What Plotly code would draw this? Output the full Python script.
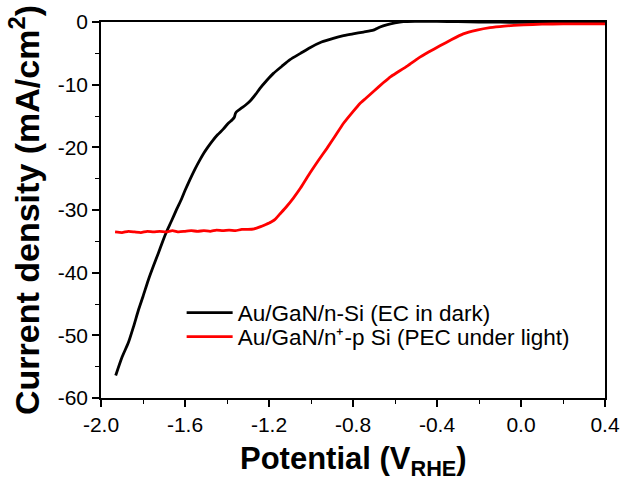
import plotly.graph_objects as go

# ---- data ----
dark_v = [-1.930, -1.900, -1.870, -1.845, -1.822, -1.800, -1.775, -1.750, -1.727, -1.705,
          -1.687, -1.665, -1.640, -1.616, -1.600, -1.576, -1.553, -1.529, -1.510, -1.492,
          -1.470, -1.445, -1.418, -1.395, -1.375, -1.365, -1.360, -1.354, -1.330, -1.310,
          -1.290, -1.265, -1.243, -1.210, -1.179, -1.140, -1.100, -1.050, -1.005, -0.950,
          -0.894, -0.850, -0.800, -0.750, -0.703, -0.690, -0.671, -0.640, -0.600, -0.560,
          -0.500, -0.400, -0.300, -0.200, 0.000, 0.200, 0.400]
dark_j = [-56.4, -53.5, -51.2, -48.6, -46.0, -43.8, -41.2, -38.9, -36.9, -34.9,
          -33.4, -31.8, -29.9, -28.2, -26.9, -25.1, -23.5, -22.0, -20.9, -20.0,
          -19.0, -18.0, -17.1, -16.2, -15.6, -15.2, -14.6, -14.3, -13.7, -13.2,
          -12.6, -11.6, -10.6, -9.3, -8.2, -7.1, -6.0, -5.0, -4.1, -3.2,
          -2.6, -2.2, -1.9, -1.6, -1.3, -1.1, -0.8, -0.45, -0.15, 0.05,
          0.1, 0.1, 0.05, 0.0, -0.05, -0.05, -0.05]

light_v = [-1.933, -1.900, -1.870, -1.840, -1.810, -1.780, -1.750, -1.720, -1.690, -1.660,
           -1.630, -1.600, -1.570, -1.540, -1.510, -1.480, -1.450, -1.420, -1.390, -1.360,
           -1.330, -1.300, -1.270, -1.243, -1.215, -1.190, -1.171, -1.150, -1.120, -1.084,
           -1.050, -1.005, -0.965, -0.925, -0.885, -0.846, -0.805, -0.767, -0.740, -0.700,
           -0.656, -0.620, -0.592, -0.540, -0.490, -0.440, -0.386, -0.330, -0.275, -0.210,
           -0.148, -0.080, 0.011, 0.100, 0.200, 0.329, 0.400]
light_j = [-33.5, -33.6, -33.4, -33.5, -33.6, -33.4, -33.5, -33.4, -33.5, -33.3,
           -33.5, -33.4, -33.3, -33.4, -33.3, -33.4, -33.2, -33.3, -33.2, -33.3,
           -33.1, -33.1, -33.0, -32.7, -32.3, -31.9, -31.5, -30.7, -29.6, -28.1,
           -26.5, -24.1, -22.1, -20.2, -18.2, -16.2, -14.5, -13.0, -12.2, -11.0,
           -9.7, -8.7, -8.1, -7.0, -5.8, -4.8, -3.8, -2.8, -1.9, -1.3,
           -0.9, -0.65, -0.45, -0.35, -0.3, -0.3, -0.3]

x_tickvals = [-2.0, -1.6, -1.2, -0.8, -0.4, 0.0, 0.4]
x_ticktext = ["-2.0", "-1.6", "-1.2", "-0.8", "-0.4", "0.0", "0.4"]
y_tickvals = [-60, -50, -40, -30, -20, -10, 0]
y_ticktext = ["-60", "-50", "-40", "-30", "-20", "-10", "0"]

name_dark = "Au/GaN/n-Si (EC in dark)"
name_light = "Au/GaN/n\u207a-p Si (PEC under light)"
x_title = "Potential (V<sub>RHE</sub>)"
y_title = "Current density (mA/cm<sup>2</sup>)"

FONT = "Liberation Sans, Arial, sans-serif"

fig = go.Figure()
fig.add_trace(go.Scatter(x=dark_v, y=dark_j, mode="lines", name=name_dark, legend="legend",
                         line=dict(color="black", width=2.8, shape="spline", smoothing=0.6)))
fig.add_trace(go.Scatter(x=light_v, y=light_j, mode="lines", name=name_light, legend="legend2",
                         line=dict(color="#ff0000", width=2.8, shape="spline", smoothing=0.4)))

axis_common = dict(
    showline=True, linecolor="black", linewidth=1.5, mirror=True,
    showgrid=False, zeroline=False, automargin=False,
    ticks="outside", ticklen=7, tickwidth=1.5, tickcolor="black",
    tickfont=dict(family=FONT, size=21, color="black"),
)

fig.update_xaxes(
    range=[-2.0, 0.4], tickmode="array", tickvals=x_tickvals, ticktext=x_ticktext,
    minor=dict(ticks="outside", ticklen=4, tickwidth=1, tickcolor="black",
               tickmode="linear", tick0=-2.0, dtick=0.2),
    **axis_common,
)
fig.update_yaxes(
    range=[-60, 0], tickmode="array", tickvals=y_tickvals, ticktext=y_ticktext,
    minor=dict(ticks="outside", ticklen=4, tickwidth=1, tickcolor="black",
               tickmode="linear", tick0=0, dtick=5),
    title=dict(text=y_title, standoff=8,
               font=dict(family=FONT, size=34, color="black", weight="bold")),
    **axis_common,
)

fig.add_annotation(
    text=x_title, xref="paper", yref="paper", x=0.5, y=-0.168,
    xanchor="center", yanchor="middle", showarrow=False,
    font=dict(family=FONT, size=31, color="black", weight="bold"),
)

legend_common = dict(xanchor="left", yanchor="middle",
                     bgcolor="rgba(0,0,0,0)", borderwidth=0,
                     font=dict(family=FONT, size=22.5, color="black"),
                     itemwidth=46)

fig.update_layout(
    width=623, height=482,
    margin=dict(l=101, r=18, t=22, b=84),
    paper_bgcolor="white", plot_bgcolor="white",
    showlegend=True,
    legend=dict(x=0.16, y=0.226, **legend_common),
    legend2=dict(x=0.16, y=0.162, **legend_common),
)

fig.write_html("out.html")
